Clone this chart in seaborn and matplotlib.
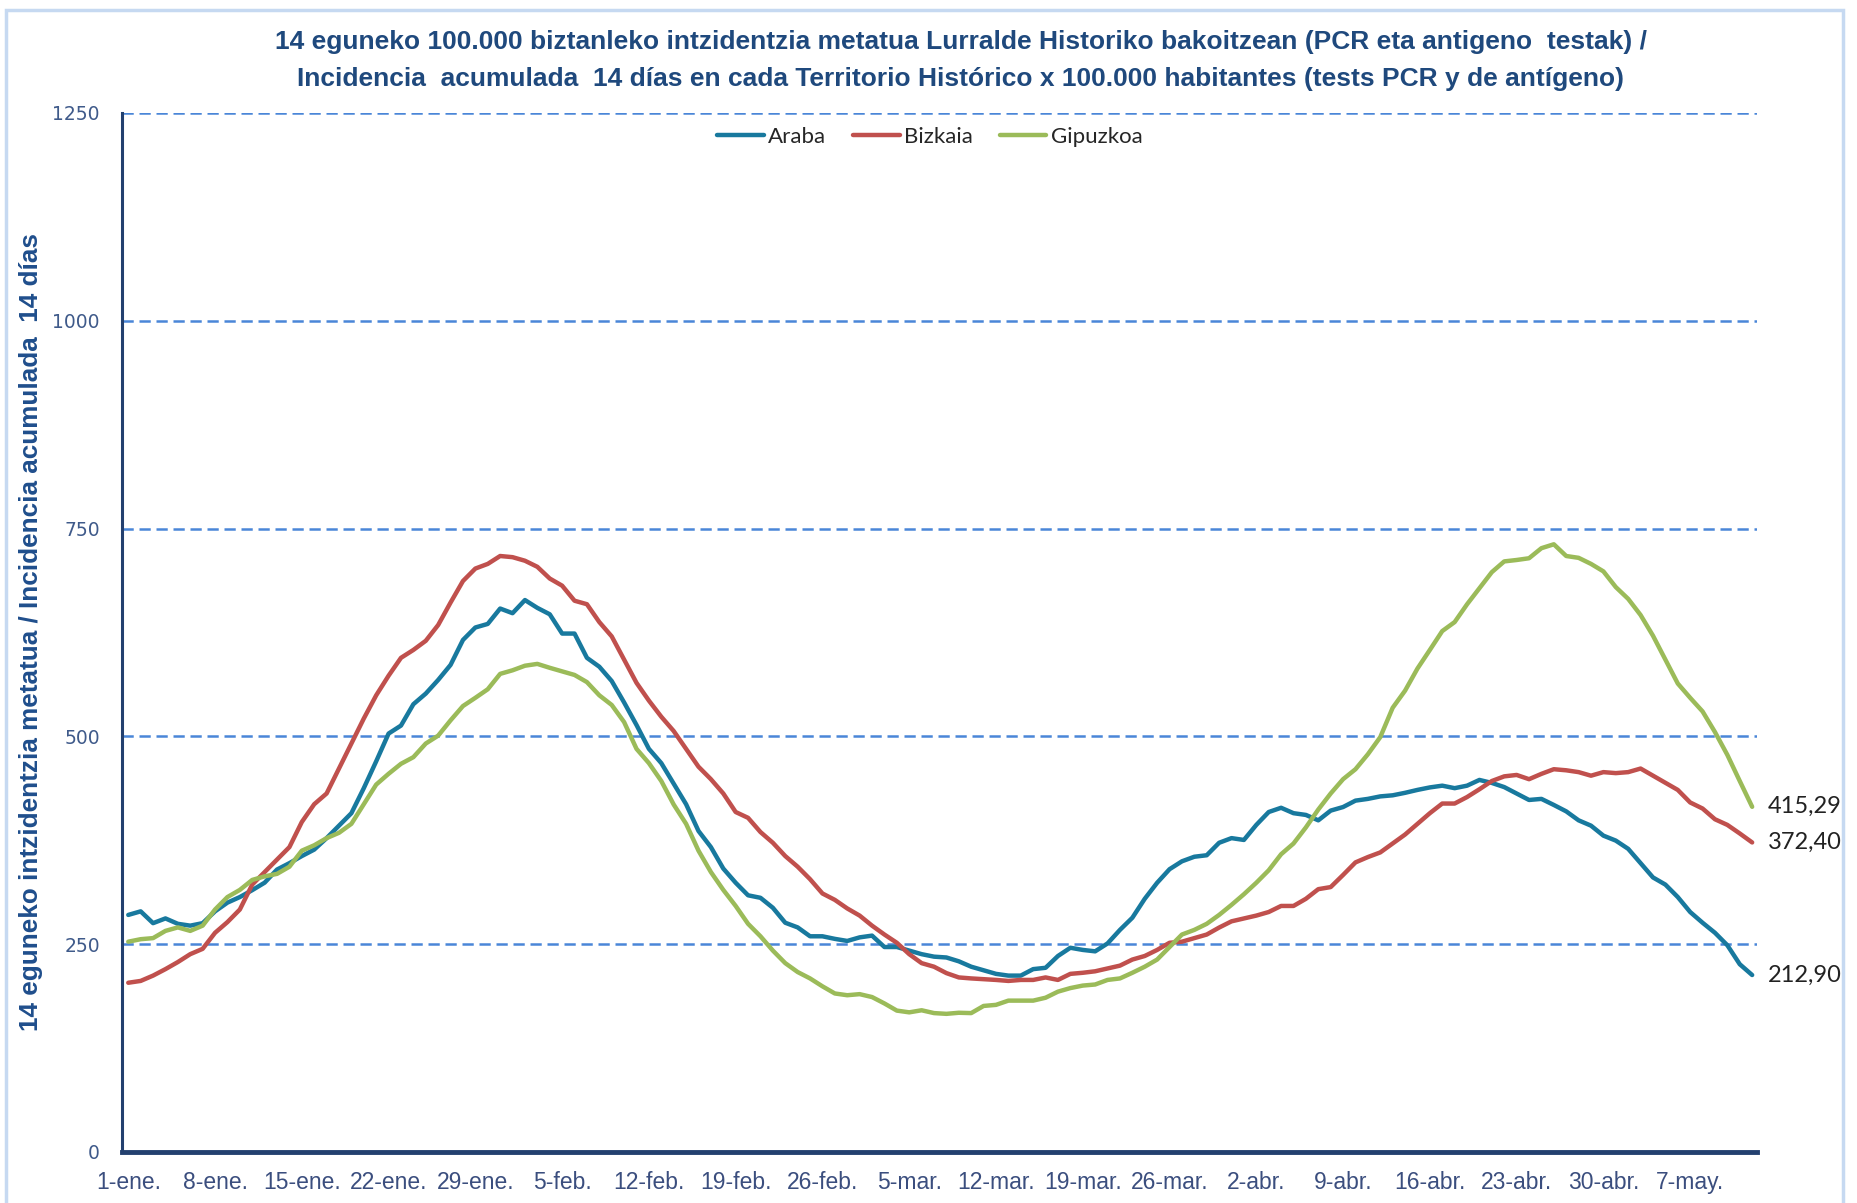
import numpy as np
import pandas as pd
import seaborn as sns
import matplotlib.pyplot as plt
from matplotlib.patches import Rectangle

# daily values, 1-ene .. 12-may 2021
araba = [
    285.2, 289.5, 275.3, 281.0, 274.5, 272.3, 275.3, 289.5, 300.0, 306.7,
    315.0, 324.0, 339.8, 347.5, 356.0, 363.8, 377.6, 392.6, 407.6, 437.7,
    470.0, 503.4, 513.0, 538.7, 551.5, 567.9, 586.0, 616.0, 631.0, 635.3,
    653.8, 648.2, 664.0, 654.6, 646.9, 623.7, 623.7, 594.5, 583.8, 566.6,
    540.8, 513.7, 485.0, 467.8, 443.0, 418.4, 386.2, 366.8, 341.0, 323.9,
    308.8, 305.8, 293.8, 275.8, 270.2, 259.5, 259.5, 256.4, 253.9, 258.2,
    260.3, 246.6, 246.6, 242.3, 238.0, 235.0, 234.0, 229.4, 222.9, 218.6,
    214.3, 212.2, 212.2, 220.0, 221.6, 235.8, 245.7, 243.1, 241.4, 250.9,
    267.2, 281.8, 304.6, 323.9, 340.2, 349.7, 355.2, 357.0, 372.0, 377.6,
    375.4, 393.5, 409.0, 414.1, 407.6, 405.5, 399.0, 410.7, 415.0, 422.7,
    424.8, 427.8, 429.1, 432.1, 435.6, 438.6, 440.7, 437.7, 440.7, 447.6,
    444.0, 439.0, 431.3, 423.5, 424.8, 417.5, 409.8, 399.0, 392.6, 380.6,
    374.6, 364.7, 347.5, 330.3, 321.7, 306.7, 288.7, 275.8, 263.7, 248.7,
    225.9, 212.90]

bizkaia = [
    203.6, 205.8, 212.2, 220.0, 228.5, 238.0, 244.4, 263.7, 276.6, 291.7,
    321.7, 336.8, 351.8, 366.8, 397.0, 418.4, 431.3, 461.3, 491.4, 521.5,
    549.4, 573.0, 594.5, 604.0, 615.0, 634.0, 661.0, 686.9, 701.9, 707.5,
    717.0, 715.6, 711.3, 704.0, 689.9, 681.3, 663.2, 659.0, 637.5, 620.3,
    592.4, 564.4, 543.0, 523.6, 506.4, 485.0, 463.5, 448.5, 431.3, 409.0,
    402.0, 384.9, 372.0, 356.0, 343.2, 328.2, 311.0, 303.3, 293.0, 284.4,
    272.3, 261.6, 251.7, 238.0, 227.2, 222.9, 215.2, 210.0, 208.8, 207.9,
    207.0, 205.8, 207.0, 207.0, 210.0, 207.0, 214.3, 215.6, 217.4, 220.8,
    224.2, 231.5, 235.8, 243.1, 251.7, 253.0, 257.3, 261.6, 270.0, 277.5,
    280.9, 284.4, 288.7, 296.0, 296.0, 304.6, 316.2, 318.7, 333.3, 348.4,
    354.8, 360.4, 371.1, 381.9, 394.8, 407.6, 419.2, 419.2, 427.0, 436.4,
    446.3, 451.9, 453.6, 448.5, 454.9, 460.5, 459.2, 457.0, 452.7, 457.0,
    455.8, 457.0, 461.3, 452.7, 444.2, 435.6, 420.5, 413.2, 400.3, 393.5,
    383.2, 372.40]

gipuzkoa = [
    253.0, 256.0, 257.3, 266.0, 270.2, 266.0, 272.3, 291.7, 306.7, 315.3,
    327.3, 331.6, 334.6, 343.2, 362.5, 369.0, 377.6, 384.0, 394.8, 418.4,
    442.0, 455.0, 467.0, 475.0, 491.4, 500.9, 519.3, 536.5, 546.4, 556.7,
    575.2, 579.5, 585.0, 587.2, 582.5, 578.2, 573.9, 565.3, 549.4, 537.8,
    517.2, 485.0, 467.8, 446.3, 418.0, 394.8, 362.5, 336.8, 315.3, 296.0,
    274.5, 259.5, 242.3, 227.2, 216.5, 208.8, 199.3, 190.7, 188.6, 189.9,
    186.4, 178.7, 170.1, 168.0, 170.5, 167.1, 166.2, 167.5, 167.1, 175.7,
    177.0, 182.1, 182.1, 182.1, 185.6, 192.9, 197.2, 200.2, 201.5, 207.0,
    208.8, 215.6, 222.9, 231.5, 246.6, 261.6, 267.2, 274.5, 285.2, 297.3,
    310.1, 323.9, 338.9, 358.2, 371.1, 390.5, 412.0, 431.3, 448.5, 460.5,
    478.5, 499.1, 534.4, 555.0, 581.6, 604.0, 626.7, 637.5, 658.9, 678.3,
    697.6, 710.5, 712.2, 714.3, 726.4, 731.1, 717.0, 714.8, 707.5, 698.5,
    679.6, 665.4, 646.0, 621.1, 592.4, 563.6, 546.4, 530.0, 505.2, 477.7,
    446.3, 415.29]

territorios = ['Araba', 'Bizkaia', 'Gipuzkoa']
colores = ['#18799E', '#C0504D', '#9BBB59']
fechas = pd.date_range('2021-01-01', periods=len(araba), freq='D')
meses = {1: 'ene', 2: 'feb', 3: 'mar', 4: 'abr', 5: 'may'}

titulo = ('14 eguneko 100.000 biztanleko intzidentzia metatua Lurralde Historiko bakoitzean (PCR eta antigeno  testak) /\n'
          'Incidencia  acumulada  14 días en cada Territorio Histórico x 100.000 habitantes (tests PCR y de antígeno)')
ylabel = '14 eguneko intzidentzia metatua / Incidencia acumulada  14 días'

df = pd.DataFrame({
    'dia': np.tile(np.arange(len(araba)), 3),
    'valor': araba + bizkaia + gipuzkoa,
    'territorio': np.repeat(territorios, len(araba)),
})

sns.set_style('white')
narrow = ['Liberation Sans', 'DejaVu Sans']
plt.rcParams['font.family'] = narrow

fig = plt.figure(figsize=(18.58, 12.03), dpi=100)
ax = fig.add_axes([0.0657, 0.0424, 0.88, 0.8637])

sns.lineplot(data=df, x='dia', y='valor', hue='territorio', palette=colores,
             linewidth=3.2, ax=ax, legend=True)

ax.set_ylim(0, 1250)
ax.set_xlim(-0.5, len(araba) - 0.6)
ax.set_yticks([0, 250, 500, 750, 1000, 1250])
ax.yaxis.grid(True, color='#4A86D8', linestyle=(0, (4.5, 2.3)), linewidth=1.8)
ax.xaxis.grid(False)

ticks = np.arange(0, len(araba), 7)
ax.set_xticks(ticks)
ax.set_xticklabels([f'{fechas[i].day}-{meses[fechas[i].month]}.' for i in ticks],
                   family=narrow, fontsize=16.5, color='#3B4E7E')
for lab in ax.get_yticklabels():
    lab.set_family(['DejaVu Sans'])
    lab.set_fontsize(13.5)
    lab.set_color('#3F5A8A')
ax.tick_params(axis='both', length=0)
ax.tick_params(axis='x', pad=14)
ax.tick_params(axis='y', pad=16)

for s in ['top', 'right']:
    ax.spines[s].set_visible(False)
ax.spines['left'].set_color('#23406F')
ax.spines['left'].set_linewidth(2.2)
ax.spines['bottom'].set_color('#23406F')
ax.spines['bottom'].set_linewidth(3.5)
ax.spines['bottom'].set_zorder(5)

ax.set_xlabel('')
ax.set_ylabel(ylabel, fontsize=18.8, fontweight='bold', color='#1F4E8C', labelpad=7)

handles, labels = ax.get_legend_handles_labels()
ax.legend(handles, labels, loc='center', bbox_to_anchor=(0.494, 0.977), ncol=3,
          frameon=False, handlelength=2.1, handletextpad=0.2, columnspacing=1.2,
          prop={'family': ['Lato', 'DejaVu Sans'], 'size': 16})

for serie in [gipuzkoa, bizkaia, araba]:
    v = serie[-1]
    ax.annotate(f'{v:.2f}'.replace('.', ','), xy=(len(serie) - 1, v), xytext=(11, 0),
                textcoords='offset points', va='center', ha='left',
                fontsize=17, color='#222222', family=['Lato', 'DejaVu Sans'],
                annotation_clip=False)

fig.text(0.517, 0.9495, titulo, ha='center', va='center', fontsize=19,
         fontweight='bold', color='#1F497D', linespacing=1.68)

fig.patches.append(Rectangle((0.003, -0.02), 0.989, 1.012, transform=fig.transFigure,
                             fill=False, edgecolor='#C6D9F1', linewidth=2.5))

fig.savefig('out.png', dpi=100)
